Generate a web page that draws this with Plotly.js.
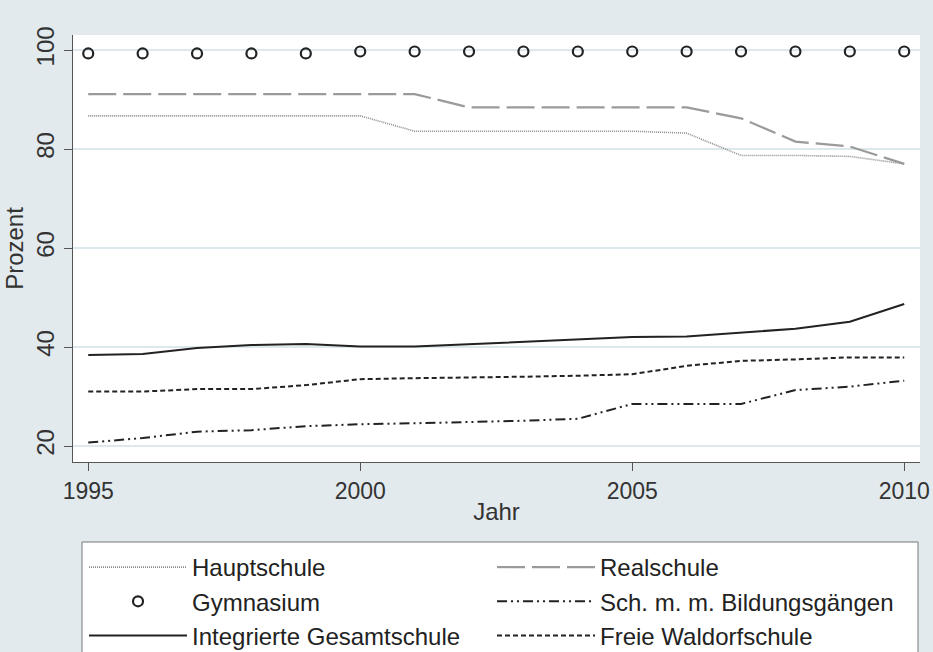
<!DOCTYPE html>
<html>
<head>
<meta charset="utf-8">
<script src="https://cdn.plot.ly/plotly-3.0.1.min.js"></script>
<style>html,body{margin:0;padding:0;background:#e2eaed;}</style>
</head>
<body>
<div id="chart" style="width:933px;height:652px;"></div>
<script>
const years = [1995,1996,1997,1998,1999,2000,2001,2002,2003,2004,2005,2006,2007,2008,2009,2010];
const hauptschule = [86.7,86.7,86.7,86.7,86.7,86.7,83.6,83.6,83.6,83.6,83.6,83.2,78.7,78.7,78.5,77.0];
const realschule  = [91.1,91.1,91.1,91.1,91.1,91.1,91.1,88.4,88.4,88.4,88.4,88.4,86.2,81.5,80.5,77.0];
const gymnasium   = [99.3,99.3,99.3,99.3,99.3,99.7,99.7,99.7,99.7,99.7,99.7,99.7,99.7,99.7,99.7,99.7];
const schMM       = [20.7,21.6,22.9,23.2,24.0,24.4,24.6,24.8,25.1,25.5,28.5,28.5,28.5,31.3,32.0,33.2];
const igs         = [38.4,38.6,39.8,40.4,40.6,40.1,40.1,40.6,41.1,41.6,42.0,42.1,42.9,43.7,45.1,48.7];
const waldorf     = [31.0,31.0,31.5,31.5,32.3,33.5,33.7,33.8,34.0,34.2,34.5,36.2,37.2,37.5,37.9,37.9];
const xTicks = [1995,2000,2005,2010];
const yTicks = [20,40,60,80,100];
const names = ["Hauptschule","Realschule","Gymnasium","Sch. m. m. Bildungsgängen","Integrierte Gesamtschule","Freie Waldorfschule"];

const FONT = "Liberation Sans, Arial, sans-serif";
const traces = [
  {x: years, y: hauptschule, name: names[0], mode: "lines",
   line: {color: "#8c8c8c", width: 1.6, dash: "1px,1px"}},
  {x: years, y: realschule, name: names[1], mode: "lines",
   line: {color: "#9a9a9a", width: 2.2, dash: "28px,7px"}},
  {x: years, y: gymnasium, name: names[2], mode: "markers",
   marker: {symbol: "circle-open", size: 10, color: "#222", line: {width: 2.2, color: "#222"}}},
  {x: years, y: schMM, name: names[3], mode: "lines",
   line: {color: "#222", width: 2, dash: "10px,4px,2px,4px,2px,4px"}},
  {x: years, y: igs, name: names[4], mode: "lines",
   line: {color: "#222", width: 2}},
  {x: years, y: waldorf, name: names[5], mode: "lines",
   line: {color: "#222", width: 2, dash: "5px,3px"}}
];

const layout = {
  width: 933, height: 652,
  paper_bgcolor: "#e2eaed",
  plot_bgcolor: "#ffffff",
  margin: {l: 73, r: 13, t: 35, b: 190, autoexpand: false},
  font: {family: FONT, size: 24, color: "#333"},
  showlegend: true,
  xaxis: {
    range: [1994.72, 2010.29],
    tickvals: xTicks, ticktext: xTicks.map(String),
    showgrid: false, zeroline: false,
    showline: true, linecolor: "#555", linewidth: 1,
    ticks: "outside", ticklen: 8, tickcolor: "#555",
    tickfont: {family: FONT, size: 23, color: "#333"},
    title: {text: "Jahr", font: {family: FONT, size: 24, color: "#333"}, standoff: 0}
  },
  yaxis: {
    range: [16.77, 103.03],
    tickvals: yTicks, ticktext: yTicks.map(String),
    tickangle: -90,
    showgrid: true, gridcolor: "#dce8ec", gridwidth: 1.2,
    zeroline: false,
    showline: true, linecolor: "#555", linewidth: 1,
    ticks: "outside", ticklen: 8, tickcolor: "#555",
    tickfont: {family: FONT, size: 24, color: "#333"},
    title: {text: "Prozent", font: {family: FONT, size: 24, color: "#333"}, standoff: 2}
  },
  shapes: [
    {type: "rect", xref: "paper", yref: "paper",
     x0: 0.01063, x1: 0.99764, y0: -0.18735, y1: -0.48,
     fillcolor: "#ffffff", line: {color: "#777", width: 1}, layer: "above"}
  ],
  legend: {
    orientation: "h",
    x: 0.0130, xanchor: "left",
    y: -0.1944, yanchor: "top",
    bgcolor: "rgba(0,0,0,0)", borderwidth: 0,
    font: {family: FONT, size: 24, color: "#222"},
    itemwidth: 98,
    entrywidth: 295, entrywidthmode: "pixels",
    traceorder: "normal",
    tracegroupgap: 0
  }
};

Plotly.newPlot("chart", traces, layout, {displayModeBar: false, staticPlot: true});
</script>
</body>
</html>
